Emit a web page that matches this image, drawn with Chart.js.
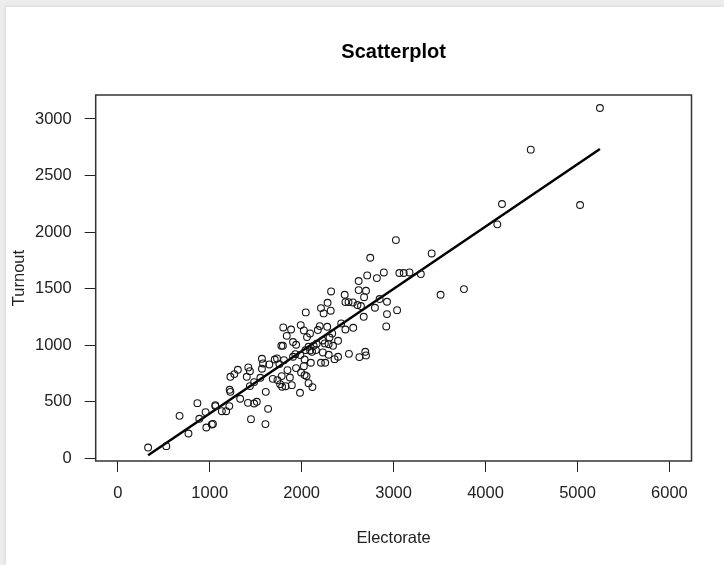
<!DOCTYPE html>
<html>
<head>
<meta charset="utf-8">
<title>Scatterplot</title>
<script src="https://cdn.jsdelivr.net/npm/chart.js@4.4.1/dist/chart.umd.min.js"></script>
<style>
  html, body { margin: 0; padding: 0; }
  body { width: 724px; height: 565px; background: #ededed; overflow: hidden; position: relative; }
  #panel { position: absolute; left: 6px; top: 7px; width: 718px; height: 558px; background: #fff; box-shadow: -1px -1px 3px rgba(0,0,0,0.08); }
  canvas { display: block; }
</style>
</head>
<body>
<div id="panel"><canvas id="grafico-dispersion" width="718" height="558"></canvas></div>
<script>
// Electorado (eje x) y participacion (eje y) de cada punto
const electorado = [
  5244, 4492, 4179, 5028, 4128, 3025, 3414, 2746, 2894, 2818,
  2713, 3063, 3110, 3173, 3296, 3511, 3765, 2620, 2620, 2700,
  2679, 2320, 2468, 2848, 2928, 2476, 2510, 2557, 2607, 2645,
  2797, 3038, 2928, 2675, 2920, 2282, 2210, 2316, 2239, 2045,
  2430, 2197, 2278, 1990, 1885, 1800, 1838, 1906, 1796, 1779,
  2024, 2058, 2091, 2176, 2332, 2476, 2561, 2396, 2341, 2252,
  2227, 2163, 2130, 2075, 2041, 2092, 2113, 2155, 2231, 2294,
  1931, 1906, 1986, 2032, 2100, 2210, 2256, 2358, 2396, 2514,
  2628, 2692, 2700, 2024, 1939, 1994, 2032, 2053, 2075, 2117,
  1982, 1846, 1872, 1893, 1825, 1787, 1766, 1737, 1686, 1783,
  1732, 1707, 1758, 1808, 1648, 1568, 1580, 1568, 1551, 1610,
  1635, 1606, 1449, 1483, 1512, 1416, 1483, 1437, 1403, 1420,
  1437, 1306, 1268, 1225, 1217, 1225, 1331, 1213, 1179, 1132,
  1061, 1061, 955, 866, 887, 963, 1023, 1035, 769, 672,
  528, 330, 1940, 2303, 2293
];
const participacion = [
  3097, 2729, 2249, 2240, 2069, 1930, 1812, 1774, 1644, 1594,
  1618, 1639, 1639, 1644, 1630, 1447, 1497, 1568, 1488, 1482,
  1426, 1476, 1447, 1409, 1385, 1382, 1382, 1379, 1356, 1347,
  1332, 1311, 1276, 1252, 1167, 1376, 1329, 1306, 1282, 1291,
  1194, 1170, 1164, 1179, 1140, 1158, 1084, 1029, 996, 996,
  1132, 1073, 1105, 1135, 1105, 1140, 1155, 1040, 996, 1017,
  1043, 1014, 996, 987, 958, 955, 943, 958, 937, 917,
  922, 899, 914, 875, 846, 846, 846, 878, 899, 925,
  896, 943, 911, 816, 799, 760, 737, 728, 666, 631,
  581, 781, 716, 648, 639, 634, 657, 693, 704, 728,
  884, 875, 834, 869, 831, 881, 840, 793, 713, 589,
  439, 304, 348, 486, 501, 492, 675, 640, 722, 805,
  772, 784, 746, 722, 607, 589, 528, 463, 418, 418,
  472, 463, 410, 489, 351, 274, 301, 306, 221, 377,
  109, 97, 1005, 1069, 1010
];

// Recta de regresion (extremos en el rango de los datos)
const ajusteX = [330, 5244];
const ajusteY = [29, 2735];

// Marcas de los ejes
const ticksX = [0, 1000, 2000, 3000, 4000, 5000, 6000];
const ticksY = [0, 500, 1000, 1500, 2000, 2500, 3000];

const fuente = "'Liberation Sans', Arial, sans-serif";
const canvasGrafico = document.querySelector('#grafico-dispersion');

const puntos = electorado.map((x, i) => ({ x: x, y: participacion[i] }));
const recta = ajusteX.map((x, i) => ({ x: x, y: ajusteY[i] }));

// Dibuja el recuadro alrededor del area del grafico
const marco = {
  id: 'marco',
  afterDraw(chart) {
    const { ctx, chartArea } = chart;
    ctx.save();
    ctx.strokeStyle = '#333';
    ctx.lineWidth = 1.5;
    ctx.strokeRect(chartArea.left, chartArea.top, chartArea.right - chartArea.left, chartArea.bottom - chartArea.top);
    ctx.restore();
  }
};

new Chart(canvasGrafico, {
  type: 'scatter',
  data: {
    datasets: [
      {
        data: puntos,
        pointStyle: 'circle',
        pointRadius: 3.4,
        borderWidth: 1.1,
        borderColor: '#161616',
        backgroundColor: 'rgba(0,0,0,0)'
      },
      {
        type: 'line',
        data: recta,
        borderColor: '#000',
        borderWidth: 2.5,
        pointRadius: 0,
        fill: false
      }
    ]
  },
  options: {
    responsive: false,
    animation: false,
    layout: { padding: { left: 0, right: 32.5, top: 0, bottom: 0 } },
    plugins: {
      legend: { display: false },
      tooltip: { enabled: false },
      title: {
        display: true,
        fullSize: false,
        text: 'Scatterplot',
        color: '#000',
        font: { family: fuente, size: 20, weight: 'bold' },
        padding: { top: 33, bottom: 31 }
      }
    },
    scales: {
      x: {
        type: 'linear',
        min: -240,
        max: 6240,
        afterBuildTicks: (s) => { s.ticks = ticksX.map(v => ({ value: v })); },
        afterFit: (s) => { s.height = 104; },
        grid: { drawOnChartArea: false, tickLength: 11, color: '#222', lineWidth: 1 },
        border: { display: false },
        ticks: {
          autoSkip: false,
          maxRotation: 0,
          padding: 12,
          color: '#222',
          font: { family: fuente, size: 16.5 },
          callback: (v) => String(v)
        },
        title: {
          display: true,
          text: 'Electorate',
          color: '#222',
          font: { family: fuente, size: 16.5 },
          padding: { top: 0, bottom: 17 }
        }
      },
      y: {
        type: 'linear',
        min: -22,
        max: 3212,
        afterBuildTicks: (s) => { s.ticks = ticksY.map(v => ({ value: v })); },
        afterFit: (s) => { s.width = 89.7; },
        grid: { drawOnChartArea: false, tickLength: 11, color: '#222', lineWidth: 1 },
        border: { display: false },
        ticks: {
          autoSkip: false,
          padding: 13,
          color: '#222',
          font: { family: fuente, size: 16.5 },
          callback: (v) => String(v)
        },
        title: {
          display: true,
          text: 'Turnout',
          color: '#222',
          font: { family: fuente, size: 16.5 },
          padding: { top: 4, bottom: 0 }
        }
      }
    }
  },
  plugins: [marco]
});
</script>
</body>
</html>
